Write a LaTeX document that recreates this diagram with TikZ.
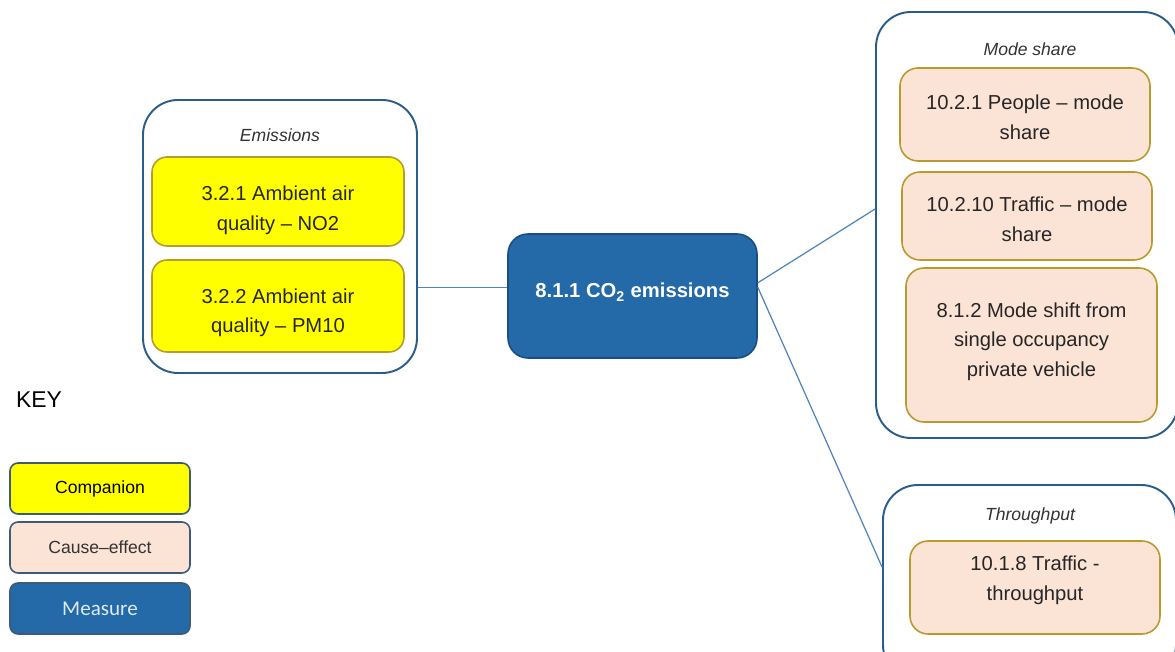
\documentclass[tikz,border=0pt]{standalone}
\usepackage{fontspec}
\setmainfont{Liberation Sans}
\newfontfamily\keyfont{Carlito}

\definecolor{groupline}{HTML}{2B5D8C}
\definecolor{goldline}{HTML}{B89B2E}
\definecolor{companion}{HTML}{FFFF00}
\definecolor{causefx}{HTML}{FBE3D5}
\definecolor{measure}{HTML}{2469A8}
\definecolor{measureline}{HTML}{1B4E7E}
\definecolor{keyline}{HTML}{3E5B7A}
\definecolor{linkline}{HTML}{4F86BA}

% box text moved up or down, box size kept
\newcommand{\movedtext}[2]{\raisebox{#1}[\height][\depth]{\begin{tabular}{@{}c@{}}#2\end{tabular}}}

\tikzset{
  group/.style={draw=groupline, line width=1.1pt, rounded corners=0.7cm, fill=white},
  grouptitle/.style={font=\fontsize{10}{12}\selectfont\itshape, text=black!80},
  compbox/.style={draw=goldline, line width=0.9pt, fill=companion, rounded corners=0.3cm,
    minimum width=5.04cm, text=black!85},
  causebox/.style={draw=goldline, line width=0.9pt, fill=causefx, rounded corners=0.36cm,
    minimum width=5cm, text=black!85},
  keybox/.style={draw=keyline, line width=0.9pt, rounded corners=0.16cm,
    minimum width=3.6cm, minimum height=1.02cm, font=\fontsize{10}{12}\selectfont},
  link/.style={draw=linkline, line width=0.7pt}
}

\begin{document}
\begin{tikzpicture}[font=\fontsize{11.5}{17}\selectfont]
	\clip (0,0) rectangle (23.5,13.02);
	\fill[white] (0,0) rectangle (23.5,13.02);
	
	% left group
	\node[group, minimum width=5.48cm, minimum height=5.46cm] (emis) at (5.60,8.29) {};
	\node[grouptitle] (emistitle) at (5.60,10.32) {Emissions};
	\node[compbox, minimum height=1.78cm] (no2) at (5.56,8.99) {\movedtext{-4.8pt}{3.2.1 Ambient air\\quality -- NO2}};
	\node[compbox, minimum height=1.84cm] (pm10) at (5.56,6.90) {\movedtext{-3.4pt}{3.2.2 Ambient air\\quality -- PM10}};
	
	% measure
	\node[draw=measureline, line width=0.9pt, fill=measure, rounded corners=0.4cm,
	      minimum width=4.98cm, minimum height=2.48cm, text=white,
	      font=\fontsize{11.5}{14}\selectfont\bfseries] (co2) at (12.65,7.10)
	      {\movedtext{1.7pt}{8.1.1 CO\textsubscript{2} emissions}};
	
	% mode share group
	\node[group, minimum width=6.04cm, minimum height=8.52cm] (modes) at (20.54,8.52) {};
	\node[grouptitle] (modestitle) at (20.60,12.04) {Mode share};
	\node[causebox, minimum height=1.86cm] (people) at (20.50,10.73) {\movedtext{-2.3pt}{10.2.1 People -- mode\\share}};
	\node[causebox, minimum height=1.76cm] (traffic) at (20.54,8.70) {\movedtext{-2.8pt}{10.2.10 Traffic -- mode\\share}};
	\node[causebox, minimum width=5.02cm, minimum height=3.08cm] (shift) at (20.63,6.12)
	      {\movedtext{2.3pt}{8.1.2 Mode shift from\\single occupancy\\private vehicle}};
	
	% throughput group
	\node[group, minimum width=5.86cm, minimum height=3.9cm] (thru) at (20.59,1.37) {};
	\node[grouptitle] (thrutitle) at (20.60,2.70) {Throughput};
	\node[causebox, minimum height=1.86cm] (tput) at (20.70,1.27) {\movedtext{4.5pt}{10.1.8 Traffic -\\throughput}};
	
	% key
	\node[anchor=west, font=\fontsize{13}{15}\selectfont] (key) at (0.20,5.02) {KEY};
	\node[keybox, fill=companion] (kcomp) at (2.00,3.25) {Companion};
	\node[keybox, fill=causefx, text=black!80] (kcause) at (2.00,2.07) {Cause--effect};
	\node[keybox, fill=measure, text=measure!15, font=\keyfont\fontsize{12}{14}\selectfont] (kmeas) at (2.00,0.85) {Measure};
	
	% links
	\draw[link] (co2.176) -- (co2.176 -| emis.east);
	\draw[link] (co2.6) -- (modes.174);
	\draw[link] (co2.4) -- (thru.174);
\end{tikzpicture}
\end{document}
